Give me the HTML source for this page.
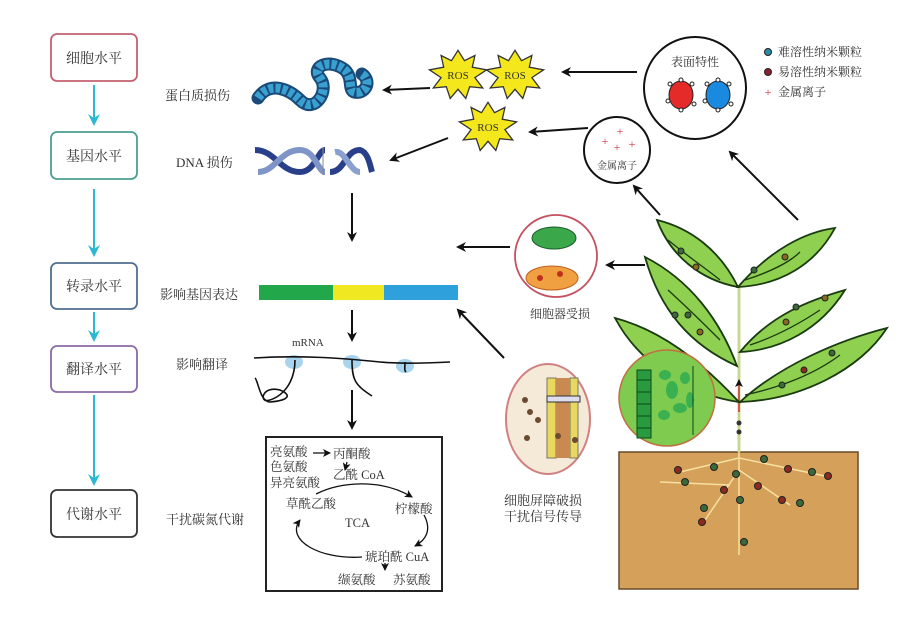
<!DOCTYPE html>
<html><head><meta charset="utf-8"><style>
body{margin:0;background:#fff}
svg{display:block}
text{font-family:"Liberation Serif","Noto Serif CJK SC",serif;fill:#333}
</style></head><body>
<svg width="919" height="636" viewBox="0 0 919 636" xmlns="http://www.w3.org/2000/svg">
<defs>
<marker id="a" markerWidth="10" markerHeight="10" refX="8" refY="5" orient="auto" markerUnits="userSpaceOnUse"><path d="M0,0 L10,5 L0,10 L3,5z" fill="#111"/></marker>
<marker id="c" markerWidth="12" markerHeight="12" refX="10" refY="6" orient="auto" markerUnits="userSpaceOnUse"><path d="M0,0 L12,6 L0,12 L4,6z" fill="#2ab8d4"/></marker>
<marker id="s" markerWidth="8" markerHeight="8" refX="7" refY="4" orient="auto" markerUnits="userSpaceOnUse"><path d="M0,0 L8,4 L0,8 L2,4z" fill="#111"/></marker>
</defs>
<g stroke-width="1.8" fill="#fff">
<rect x="51" y="34" width="86" height="47" rx="6" stroke="#c46070"/>
<rect x="51" y="132" width="86" height="47" rx="6" stroke="#4a9f90"/>
<rect x="51" y="263" width="86" height="46" rx="6" stroke="#4f6f8f"/>
<rect x="51" y="346" width="86" height="46" rx="6" stroke="#8a6aa8"/>
<rect x="51" y="490" width="86" height="47" rx="6" stroke="#333"/>
</g>
<g font-size="14" text-anchor="middle">
<text x="94" y="63">细胞水平</text><text x="94" y="161">基因水平</text>
<text x="94" y="291">转录水平</text><text x="94" y="374">翻译水平</text><text x="94" y="519">代谢水平</text>
</g>
<g stroke="#2ab8d4" stroke-width="2">
<line x1="94" y1="85" x2="94" y2="124" marker-end="url(#c)"/>
<line x1="94" y1="189" x2="94" y2="255" marker-end="url(#c)"/>
<line x1="94" y1="312" x2="94" y2="340" marker-end="url(#c)"/>
<line x1="94" y1="395" x2="94" y2="484" marker-end="url(#c)"/>
</g>
<g font-size="13">
<text x="165" y="100">蛋白质损伤</text><text x="176" y="167">DNA 损伤</text>
<text x="160" y="299">影响基因表达</text><text x="176" y="369">影响翻译</text><text x="166" y="524">干扰碳氮代谢</text>
</g>
<path d="M258,98 C270,80 290,90 300,100 C315,115 330,90 320,78 C310,66 330,58 345,70 C355,80 345,95 360,92 C370,88 368,78 362,74" fill="none" stroke="#1a4a7a" stroke-width="13" stroke-linecap="round"/>
<path d="M258,98 C270,80 290,90 300,100 C315,115 330,90 320,78 C310,66 330,58 345,70 C355,80 345,95 360,92 C370,88 368,78 362,74" fill="none" stroke="#3aa0d0" stroke-width="9" stroke-dasharray="5 2"/>
<g fill="none" stroke-width="6">
<path d="M255,150 C275,150 280,172 300,172 C315,172 318,150 325,150" stroke="#2a3f8a"/>
<path d="M258,172 C275,172 280,150 300,150 C315,150 318,172 325,172" stroke="#7f95c8"/>
<path d="M330,172 C345,172 345,150 360,150 C368,152 370,165 372,172" stroke="#2a3f8a"/>
<path d="M335,152 C345,150 350,172 360,172" stroke="#8aa0cf"/>
</g>
<line x1="323" y1="148" x2="323" y2="175" stroke="#888"/>
<rect x="259" y="285" width="74" height="15" fill="#22a84a"/>
<rect x="333" y="285" width="51" height="15" fill="#f0e820"/>
<rect x="384" y="285" width="74" height="15" fill="#2ea0dc"/>
<g stroke="#111" stroke-width="2" fill="none">
<line x1="352" y1="193" x2="352" y2="240" marker-end="url(#a)"/>
<line x1="352" y1="310" x2="352" y2="340" marker-end="url(#a)"/>
<line x1="352" y1="390" x2="352" y2="428" marker-end="url(#a)"/>
<line x1="430" y1="88" x2="384" y2="90" marker-end="url(#a)"/>
<line x1="448" y1="138" x2="391" y2="160" marker-end="url(#a)"/>
<line x1="637" y1="72" x2="563" y2="72" marker-end="url(#a)"/>
<line x1="588" y1="128" x2="530" y2="132" marker-end="url(#a)"/>
<line x1="510" y1="247" x2="458" y2="247" marker-end="url(#a)"/>
<line x1="645" y1="265" x2="607" y2="265" marker-end="url(#a)"/>
<line x1="660" y1="215" x2="634" y2="186" marker-end="url(#a)"/>
<line x1="798" y1="220" x2="730" y2="152" marker-end="url(#a)"/>
<line x1="504" y1="358" x2="458" y2="310" marker-end="url(#a)"/>
</g>
<text x="292" y="346" font-size="11">mRNA</text>
<g fill="#a8d4ee"><ellipse cx="294" cy="362" rx="9" ry="7"/><ellipse cx="352" cy="362" rx="9" ry="7"/><ellipse cx="405" cy="366" rx="9" ry="7"/></g>
<g fill="none" stroke="#111" stroke-width="1.6">
<path d="M254,358 C300,355 340,358 380,362 C400,364 430,363 450,362"/>
<path d="M295,360 C295,380 285,395 270,400 C258,404 262,385 280,390 C290,394 292,400 270,402 C260,402 258,380 255,378"/>
<path d="M352,360 C352,380 355,385 372,396"/>
<path d="M405,362 C405,368 404,370 406,372"/>
</g>
<rect x="266" y="437" width="176" height="154" fill="#fff" stroke="#222" stroke-width="2"/>
<g font-size="12.5">
<text x="270" y="456">亮氨酸</text><text x="270" y="471">色氨酸</text><text x="270" y="487">异亮氨酸</text>
<text x="333" y="458">丙酮酸</text><text x="333" y="479">乙酰 CoA</text>
<text x="286" y="508">草酰乙酸</text><text x="395" y="513">柠檬酸</text>
<text x="345" y="527">TCA</text><text x="365" y="561">琥珀酰 CuA</text>
<text x="338" y="584">缬氨酸</text><text x="393" y="584">苏氨酸</text>
</g>
<g stroke="#111" stroke-width="1.3" fill="none">
<line x1="313" y1="453" x2="330" y2="453" marker-end="url(#s)"/>
<line x1="347" y1="462" x2="345" y2="470" marker-end="url(#s)"/>
<path d="M316,494 C340,482 380,478 412,497" marker-end="url(#s)"/>
<path d="M424,515 C432,530 426,540 415,546" marker-end="url(#s)"/>
<path d="M362,557 C320,560 285,540 300,520" marker-end="url(#s)"/>
<line x1="385" y1="563" x2="385" y2="570" marker-end="url(#s)"/>
</g>
<g fill="#f4e81c" stroke="#333" stroke-width="1">
<polygon points="0,-19 5,-11 13,-15 11,-6 22,-4 13,2 19,10 9,9 6,18 0,11 -6,18 -9,9 -19,10 -13,2 -22,-4 -11,-6 -13,-15 -5,-11" transform="translate(458,75) scale(1.3)"/>
<polygon points="0,-19 5,-11 13,-15 11,-6 22,-4 13,2 19,10 9,9 6,18 0,11 -6,18 -9,9 -19,10 -13,2 -22,-4 -11,-6 -13,-15 -5,-11" transform="translate(515,75) scale(1.3)"/>
<polygon points="0,-19 5,-11 13,-15 11,-6 22,-4 13,2 19,10 9,9 6,18 0,11 -6,18 -9,9 -19,10 -13,2 -22,-4 -11,-6 -13,-15 -5,-11" transform="translate(488,127) scale(1.3)"/>
</g>
<g font-size="11" text-anchor="middle"><text x="458" y="79">ROS</text><text x="515" y="79">ROS</text><text x="488" y="131">ROS</text></g>
<circle cx="695" cy="88" r="51" fill="#fff" stroke="#111" stroke-width="2"/>
<text x="695" y="66" font-size="12" text-anchor="middle">表面特性</text>
<ellipse cx="681" cy="95" rx="12" ry="14" fill="#e52a2a" stroke="#222"/>
<ellipse cx="718" cy="95" rx="12" ry="14" fill="#1a8ae0" stroke="#222"/>
<g fill="#fff" stroke="#222" stroke-width="1">
<circle cx="670" cy="84" r="2"/><circle cx="692" cy="84" r="2"/><circle cx="668" cy="101" r="2"/><circle cx="694" cy="104" r="2"/><circle cx="681" cy="80" r="2"/><circle cx="681" cy="110" r="2"/>
<circle cx="707" cy="84" r="2"/><circle cx="729" cy="84" r="2"/><circle cx="705" cy="101" r="2"/><circle cx="731" cy="104" r="2"/><circle cx="718" cy="80" r="2"/><circle cx="718" cy="110" r="2"/>
</g>
<g font-size="12"><text x="778" y="56">难溶性纳米颗粒</text><text x="778" y="76">易溶性纳米颗粒</text><text x="778" y="96">金属离子</text></g>
<circle cx="768" cy="52" r="3.5" fill="#2a8aa8" stroke="#222"/><circle cx="768" cy="72" r="3.5" fill="#8a2030" stroke="#222"/>
<text x="768" y="96" font-size="12" text-anchor="middle" style="fill:#d03040">+</text>
<circle cx="617" cy="150" r="33" fill="#fff" stroke="#111" stroke-width="2"/>
<g font-size="12" text-anchor="middle"><text x="620" y="135" style="fill:#d03040">+</text><text x="605" y="145" style="fill:#d03040">+</text><text x="617" y="151" style="fill:#d03040">+</text><text x="632" y="148" style="fill:#d03040">+</text></g>
<text x="617" y="169" font-size="10" text-anchor="middle">金属离子</text>
<circle cx="556" cy="256" r="41" fill="#fff" stroke="#c45060" stroke-width="1.8"/>
<ellipse cx="554" cy="238" rx="22" ry="11" fill="#3aa84a" stroke="#1a5a2a"/>
<ellipse cx="552" cy="278" rx="26" ry="12" fill="#f0a040" stroke="#c06020"/>
<circle cx="540" cy="278" r="3" fill="#c03020"/><circle cx="560" cy="274" r="3" fill="#c03020"/>
<text x="560" y="318" font-size="12" text-anchor="middle">细胞器受损</text>
<ellipse cx="548" cy="419" rx="42" ry="55" fill="#f5ead8" stroke="#d08080" stroke-width="2"/>
<rect x="547" y="378" width="9" height="80" fill="#e8d860" stroke="#776"/>
<rect x="570" y="378" width="8" height="80" fill="#e8d860" stroke="#776"/>
<rect x="556" y="378" width="14" height="80" fill="#c88a50"/>
<rect x="547" y="396" width="33" height="6" fill="#dde" stroke="#333"/>
<g fill="#6a4a30"><circle cx="525" cy="400" r="3"/><circle cx="530" cy="412" r="3"/><circle cx="538" cy="420" r="3"/><circle cx="558" cy="436" r="3"/><circle cx="575" cy="440" r="3"/><circle cx="527" cy="438" r="3"/></g>
<text x="543" y="505" font-size="13" text-anchor="middle">细胞屏障破损</text>
<text x="543" y="521" font-size="13" text-anchor="middle">干扰信号传导</text>
<rect x="619" y="452" width="239" height="137" fill="#d4a05a" stroke="#6a4a2a" stroke-width="1.5"/>
<g stroke="#f6e0a0" stroke-width="1.5" fill="none">
<path d="M739,452 L739,555"/><path d="M739,458 L680,472"/><path d="M739,458 L825,476"/><path d="M739,470 L705,520"/><path d="M739,470 L790,505"/><path d="M730,485 L660,482"/>
</g>
<g stroke="#222" stroke-width="1">
<circle cx="678" cy="470" r="3.5" fill="#8a2a20"/><circle cx="685" cy="482" r="3.5" fill="#3a6a3a"/><circle cx="714" cy="467" r="3.5" fill="#3a6a3a"/>
<circle cx="736" cy="474" r="3.5" fill="#3a6a3a"/><circle cx="764" cy="459" r="3.5" fill="#3a6a3a"/><circle cx="788" cy="469" r="3.5" fill="#8a2a20"/>
<circle cx="812" cy="472" r="3.5" fill="#3a6a3a"/><circle cx="828" cy="476" r="3.5" fill="#8a2a20"/><circle cx="724" cy="490" r="3.5" fill="#8a2a20"/>
<circle cx="758" cy="486" r="3.5" fill="#8a2a20"/><circle cx="740" cy="500" r="3.5" fill="#3a6a3a"/><circle cx="782" cy="500" r="3.5" fill="#8a2a20"/>
<circle cx="800" cy="503" r="3.5" fill="#3a6a3a"/><circle cx="704" cy="508" r="3.5" fill="#3a6a3a"/><circle cx="702" cy="522" r="3.5" fill="#8a2a20"/><circle cx="744" cy="542" r="3.5" fill="#3a6a3a"/>
</g>
<line x1="739" y1="285" x2="739" y2="452" stroke="#c8d890" stroke-width="3"/>
<line x1="739" y1="412" x2="739" y2="380" stroke="#d03030" stroke-width="1.5" marker-end="url(#s)"/>
<circle cx="739" cy="423" r="2.5" fill="#333"/><circle cx="739" cy="432" r="2.5" fill="#333"/>
<g fill="#8fd050" stroke="#1a3a10" stroke-width="1.8">
<path d="M738,287 C720,250 690,228 657,220 C670,255 700,280 738,287z"/>
<path d="M738,287 C770,250 805,232 835,228 C815,265 780,285 738,287z"/>
<path d="M737,366 C720,320 690,280 645,257 C660,310 690,345 737,366z"/>
<path d="M740,352 C770,315 810,300 845,290 C820,330 780,350 740,352z"/>
<path d="M739,402 C700,360 660,330 615,318 C640,365 690,395 739,402z"/>
<path d="M740,402 C780,365 840,340 887,328 C860,370 800,400 740,402z"/>
</g>
<g fill="none" stroke="#1a3a10" stroke-width="1.3">
<path d="M668,240 C690,258 705,268 720,280"/><path d="M745,280 C770,272 790,262 800,252"/>
<path d="M668,290 C690,310 705,325 720,340"/><path d="M750,345 C780,335 805,320 820,310"/>
<path d="M745,395 C790,385 820,370 840,355"/>
</g>
<g stroke="#222" stroke-width="1">
<circle cx="681" cy="251" r="3" fill="#3a6a3a"/><circle cx="696" cy="267" r="3" fill="#8a6a20"/><circle cx="754" cy="270" r="3" fill="#3a6a3a"/><circle cx="785" cy="257" r="3" fill="#8a6a20"/>
<circle cx="675" cy="315" r="3" fill="#3a6a3a"/><circle cx="688" cy="315" r="3" fill="#3a6a3a"/><circle cx="700" cy="332" r="3" fill="#8a6a20"/>
<circle cx="796" cy="307" r="3" fill="#3a6a3a"/><circle cx="786" cy="322" r="3" fill="#8a6a20"/><circle cx="825" cy="298" r="3" fill="#8a6a20"/>
<circle cx="832" cy="353" r="3" fill="#3a6a3a"/><circle cx="804" cy="370" r="3" fill="#8a2a20"/><circle cx="782" cy="385" r="3" fill="#3a6a3a"/>
</g>
<circle cx="667" cy="398" r="48" fill="#7ecb50" stroke="#c07040" stroke-width="1.5"/>
<rect x="637" y="370" width="14" height="68" fill="#2a9a40" stroke="#0a4a1a"/>
<line x1="637" y1="380" x2="651" y2="380" stroke="#0a4a1a"/><line x1="637" y1="392" x2="651" y2="392" stroke="#0a4a1a"/><line x1="637" y1="404" x2="651" y2="404" stroke="#0a4a1a"/><line x1="637" y1="416" x2="651" y2="416" stroke="#0a4a1a"/><line x1="637" y1="428" x2="651" y2="428" stroke="#0a4a1a"/>
<g fill="#3ab050"><ellipse cx="665" cy="375" rx="6" ry="5"/><ellipse cx="672" cy="390" rx="6" ry="9"/><ellipse cx="685" cy="378" rx="5" ry="6"/><ellipse cx="680" cy="408" rx="7" ry="5"/><ellipse cx="664" cy="415" rx="6" ry="5"/><ellipse cx="690" cy="400" rx="4" ry="8"/></g>
<line x1="693" y1="366" x2="693" y2="435" stroke="#0a4a1a"/>
</svg>
</body></html>
